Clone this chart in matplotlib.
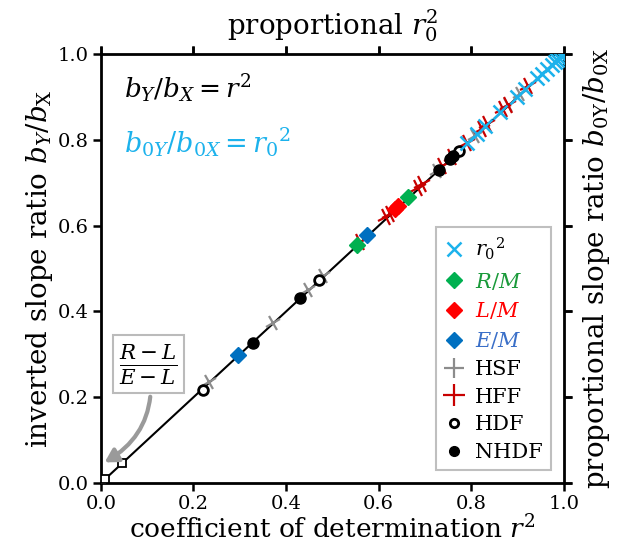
import matplotlib
matplotlib.use('Agg')
import matplotlib.pyplot as plt
from matplotlib.markers import MarkerStyle
from matplotlib.transforms import Affine2D
from matplotlib.lines import Line2D

plt.rcParams['font.family'] = ['DejaVu Serif']
plt.rcParams['mathtext.fontset'] = 'dejavuserif'

# values (x = r^2, y = slope ratio)
sq_x = [0.0, 0.004, 0.008, 0.045]
sq_y = [0.0, 0.004, 0.010, 0.047]
hdf_x = [0.220, 0.471, 0.773]
hdf_y = [0.216, 0.473, 0.775]
nhdf_x = [0.328, 0.430, 0.730, 0.754, 0.760]
nhdf_y = [0.327, 0.431, 0.729, 0.755, 0.762]
hsf_x = [0.233, 0.371, 0.447, 0.480, 0.726, 0.808, 0.879, 0.905]
hsf_y = [0.236, 0.374, 0.449, 0.482, 0.728, 0.810, 0.882, 0.907]
hff_x = [0.560, 0.616, 0.624, 0.685, 0.693, 0.737, 0.758, 0.790, 0.823, 0.834, 0.868, 0.879, 0.922]
hff_y = [0.562, 0.620, 0.628, 0.688, 0.697, 0.740, 0.760, 0.794, 0.826, 0.837, 0.872, 0.882, 0.925]
rm_x = [0.553, 0.663]
rm_y = [0.556, 0.666]
lm_x = [0.635, 0.641]
lm_y = [0.638, 0.645]
em_x = [0.296, 0.575]
em_y = [0.298, 0.578]
r0_x = [0.790, 0.812, 0.829, 0.862, 0.898, 0.916, 0.942, 0.952, 0.963,
        0.974, 0.980, 0.985, 0.990, 0.994, 0.998]
r0_y = [0.792, 0.815, 0.832, 0.866, 0.901, 0.919, 0.945, 0.955, 0.966,
        0.976, 0.982, 0.987, 0.992, 0.995, 0.999]

CYAN = "#1CB2EC"
GREEN = "#00B050"
RED = "#FF0000"
BLUE = "#0070C0"
GRAY = "#8C8C8C"
DARKRED = "#C80000"

tilted_plus = MarkerStyle('+', transform=Affine2D().rotate_deg(28))

fig = plt.figure(figsize=(6.19, 5.59), dpi=100)
ax = fig.add_axes([0.163, 0.136, 0.748, 0.767])

ax.plot([0, 1], [0, 1], color="black", lw=1.5, zorder=1)

ax.plot(sq_x, sq_y, ls="none", marker="s", ms=5.5, mfc="white", mec="black", mew=1.3, zorder=3)
ax.plot(hsf_x, hsf_y, ls="none", marker=tilted_plus, ms=12, mec=GRAY, mew=1.6, zorder=2)
ax.plot(hff_x, hff_y, ls="none", marker=tilted_plus, ms=13, mec=DARKRED, mew=1.6, zorder=2)
ax.plot(hdf_x, hdf_y, ls="none", marker="o", ms=7, mfc="white", mec="black", mew=2, zorder=3)
ax.plot(nhdf_x, nhdf_y, ls="none", marker="o", ms=8, mfc="black", mec="black", zorder=3)
ax.plot(rm_x, rm_y, ls="none", marker="D", ms=8, color=GREEN, zorder=4)
ax.plot(lm_x, lm_y, ls="none", marker="D", ms=8, color=RED, zorder=4)
ax.plot(em_x, em_y, ls="none", marker="D", ms=8, color=BLUE, zorder=4)
ax.plot(r0_x, r0_y, ls="none", marker="x", ms=10, mec=CYAN, mew=1.8, zorder=5)

ax.set_xlim(0, 1)
ax.set_ylim(0, 1)
ticks = [0.0, 0.2, 0.4, 0.6, 0.8, 1.0]
ax.set_xticks(ticks, [f"{t:.1f}" for t in ticks])
ax.set_yticks(ticks, [f"{t:.1f}" for t in ticks])
ax.tick_params(direction="out", length=6, width=1.8, labelsize=14,
               top=True, right=True, pad=3)
for sp in ax.spines.values():
    sp.set_linewidth(2)

ax.set_xlabel(r"coefficient of determination $r^2$", fontsize=19, labelpad=1)
ax.set_ylabel(r"inverted slope ratio $b_Y/b_\mathrm{X}$", fontsize=20, labelpad=2)

ax_top = ax.secondary_xaxis("top")
ax_top.set_xticks(ticks, [])
ax_top.tick_params(direction="out", length=6, width=1.8)
ax_top.set_xlabel(r"proportional $r_0^2$", fontsize=20, labelpad=5)

ax_right = ax.secondary_yaxis("right")
ax_right.set_yticks(ticks, [])
ax_right.tick_params(direction="out", length=6, width=1.8)
ax_right.set_ylabel(r"proportional slope ratio $b_{0\mathrm{Y}}/b_{0\mathrm{X}}$", fontsize=20, labelpad=3)

ax.text(0.05, 0.92, r"$b_Y/b_X = r^2$", fontsize=19, color="black",
        va="center", ha="left", transform=ax.transAxes)
ax.text(0.05, 0.795, r"$b_{0Y}/b_{0X} = r_0{}^2$", fontsize=19.5, color=CYAN,
        va="center", ha="left", transform=ax.transAxes)

ax.annotate(r"$\frac{R-L}{E-L}$", xy=(0.008, 0.048), xytext=(0.103, 0.277),
            fontsize=22, ha="center", va="center",
            bbox=dict(boxstyle="square,pad=0.2", fc="white", ec="#BBBBBB", lw=1.5),
            arrowprops=dict(arrowstyle="-|>,head_length=0.35,head_width=0.2",
                            color="#9A9A9A", lw=3,
                            connectionstyle="arc3,rad=-0.35", shrinkA=2, shrinkB=0))

handles = [
    Line2D([], [], ls="none", marker="x", ms=10, mec=CYAN, mew=1.8),
    Line2D([], [], ls="none", marker="D", ms=8, color=GREEN),
    Line2D([], [], ls="none", marker="D", ms=8, color=RED),
    Line2D([], [], ls="none", marker="D", ms=8, color=BLUE),
    Line2D([], [], ls="none", marker="+", ms=14, mec=GRAY, mew=1.6),
    Line2D([], [], ls="none", marker="+", ms=16, mec=DARKRED, mew=1.6),
    Line2D([], [], ls="none", marker="o", ms=6, mfc="white", mec="black", mew=2),
    Line2D([], [], ls="none", marker="o", ms=7, mfc="black", mec="black"),
]
labels = [r"$r_0{}^2$", r"$R/M$", r"$L/M$", r"$E/M$", "HSF", "HFF", "HDF", "NHDF"]
leg = ax.legend(handles, labels, loc="lower right", fontsize=15, frameon=True,
                fancybox=False, edgecolor="#BFBFBF", framealpha=1,
                handlelength=1.0, handletextpad=0.5, labelspacing=0.42,
                borderaxespad=0.6, borderpad=0.4)
leg.get_frame().set_linewidth(1.5)
for txt, col in zip(leg.get_texts(), ["black", "#1A9A3A", RED, "#3A6FC8",
                                      "black", "black", "black", "black"]):
    txt.set_color(col)

fig.savefig("out.png", dpi=100)
